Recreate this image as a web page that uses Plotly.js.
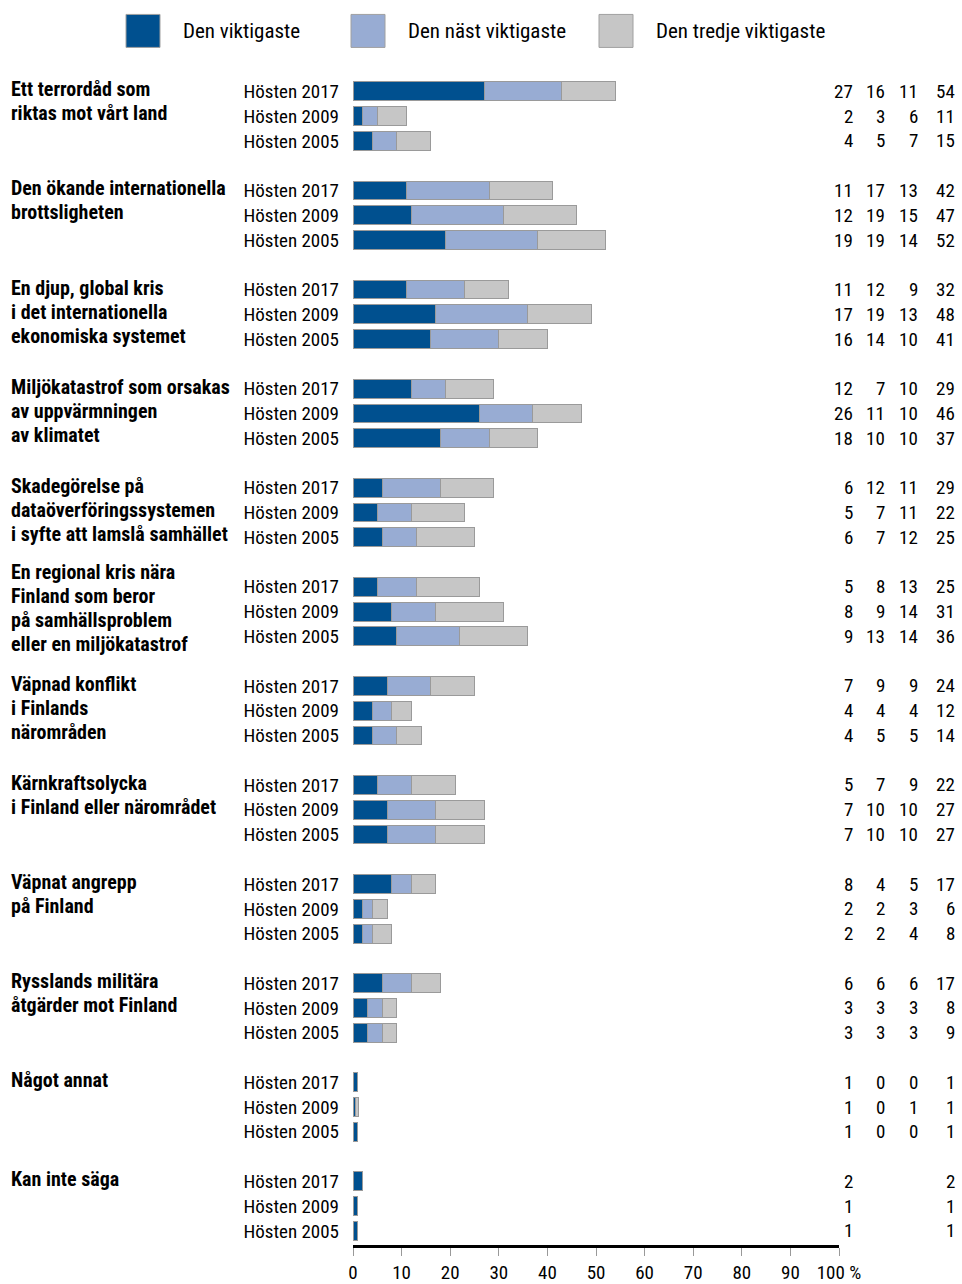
<!DOCTYPE html>
<html>
<head>
<meta charset="utf-8">
<script src="https://cdn.plot.ly/plotly-3.0.1.min.js"></script>
<style>
  html, body { margin: 0; padding: 0; background: #fff; }
  #chart { width: 962px; height: 1284px; }
</style>
</head>
<body>
<div id="chart"></div>
<script>
const groups = [
  "Ett terrordåd som<br>riktas mot vårt land",
  "Den ökande internationella<br>brottsligheten",
  "En djup, global kris<br>i det internationella<br>ekonomiska systemet",
  "Miljökatastrof som orsakas<br>av uppvärmningen<br>av klimatet",
  "Skadegörelse på<br>dataöverföringssystemen<br>i syfte att lamslå samhället",
  "En regional kris nära<br>Finland som beror<br>på samhällsproblem<br>eller en miljökatastrof",
  "Väpnad konflikt<br>i Finlands<br>närområden",
  "Kärnkraftsolycka<br>i Finland eller närområdet",
  "Väpnat angrepp<br>på Finland",
  "Rysslands militära<br>åtgärder mot Finland",
  "Något annat",
  "Kan inte säga"
];
const years = ["Hösten 2017", "Hösten 2009", "Hösten 2005"];
const seriesNames = ["Den viktigaste", "Den näst viktigaste", "Den tredje viktigaste"];
const seriesColors = ["#00508f", "#98acd3", "#c6c6c6"];

// values per group: [2017, 2009, 2005]
const first = [
  [27, 2, 4], [11, 12, 19], [11, 17, 16], [12, 26, 18], [6, 5, 6], [5, 8, 9],
  [7, 4, 4], [5, 7, 7], [8, 2, 2], [6, 3, 3], [1, 0.5, 1], [2, 1, 1]
];
const second = [
  [16, 3, 5], [17, 19, 19], [12, 19, 14], [7, 11, 10], [12, 7, 7], [8, 9, 13],
  [9, 4, 5], [7, 10, 10], [4, 2, 2], [6, 3, 3], [0, 0.1, 0], [null, null, null]
];
const third = [
  [11, 6, 7], [13, 15, 14], [9, 13, 10], [10, 10, 10], [11, 11, 12], [13, 14, 14],
  [9, 4, 5], [9, 10, 10], [5, 3, 4], [6, 3, 3], [0, 0.6, 0], [null, null, null]
];
const total = [
  [54, 11, 15], [42, 47, 52], [32, 48, 41], [29, 46, 37], [29, 22, 25], [25, 31, 36],
  [24, 12, 14], [22, 27, 27], [17, 6, 8], [17, 8, 9], [1, 1, 1], [2, 1, 1]
];
const xTickVals = [0, 10, 20, 30, 40, 50, 60, 70, 80, 90, 100];
const xTickText = ["0", "10", "20", "30", "40", "50", "60", "70", "80", "90", "100 %"];

const FONT = "'Roboto Condensed', 'DejaVu Sans Condensed', sans-serif";
const SLOT = 4;
const PLOT_L = 353, PLOT_W = 486, PLOT_T = 78.6, PLOT_H = 1166.4;
const px2x = p => (p - PLOT_L) / PLOT_W;
const px2y = p => 1 - (p - PLOT_T) / PLOT_H;

const pos = [], tickText = [];
groups.forEach((g, gi) => years.forEach((y, ri) => { pos.push(gi * SLOT + ri); tickText.push(y); }));

function flat(arr) {
  const out = [];
  arr.forEach(r => r.forEach(v => out.push(v === 0 ? null : v)));
  return out;
}
const seriesData = [first, second, third];
const traces = seriesData.map((d, i) => ({
  type: 'bar', orientation: 'h', name: seriesNames[i],
  x: flat(d), y: pos, width: 0.76,
  marker: { color: seriesColors[i], line: { color: '#9a9a9a', width: 1 } },
  hoverinfo: 'x+name', showlegend: false
}));

const annotations = [];
const colRight = [855, 887, 920, 957];
const LINE_H = 24;
groups.forEach((g, gi) => {
  const lines = g.split('<br>');
  const start = lines.length > 3 ? -15 : -2;
  lines.forEach((ln, li) => {
    annotations.push({
      xref: 'paper', yref: 'y', x: px2x(9), y: gi * SLOT,
      xanchor: 'left', yanchor: 'middle', align: 'left', showarrow: false,
      yshift: -(start + li * LINE_H),
      text: '<b>' + ln + '</b>',
      font: { family: FONT, size: 20, color: '#000' }
    });
  });
  years.forEach((y, ri) => {
    const vals = [first[gi][ri], second[gi][ri], third[gi][ri], total[gi][ri]];
    vals.forEach((v, ci) => {
      if (v === null || v === undefined) return;
      annotations.push({
        xref: 'paper', yref: 'y', x: px2x(colRight[ci]), y: gi * SLOT + ri,
        xanchor: 'right', yanchor: 'middle', showarrow: false,
        text: String(ci === 3 ? v : Math.round(v)),
        font: { family: FONT, size: 19, color: '#000' }
      });
    });
  });
});

// legend (drawn manually for large swatches)
const shapes = [];
const legX = [126, 351, 599];
seriesNames.forEach((n, i) => {
  shapes.push({
    type: 'rect', xref: 'paper', yref: 'paper',
    x0: px2x(legX[i]), x1: px2x(legX[i] + 34),
    y0: px2y(47), y1: px2y(14),
    fillcolor: seriesColors[i], line: { color: '#a0a0a0', width: 1 }
  });
  annotations.push({
    xref: 'paper', yref: 'paper',
    x: px2x(legX[i] + 55), y: px2y(31),
    xanchor: 'left', yanchor: 'middle', showarrow: false,
    text: n, font: { family: FONT, size: 21, color: '#000' }
  });
});

const layout = {
  width: 962, height: 1284,
  margin: { l: PLOT_L, r: 962 - PLOT_L - PLOT_W, t: PLOT_T, b: 1284 - PLOT_T - PLOT_H, pad: 0 },
  paper_bgcolor: '#fff', plot_bgcolor: '#fff',
  barmode: 'stack', bargap: 0,
  showlegend: false,
  font: { family: FONT, size: 19, color: '#000' },
  xaxis: {
    range: [0, 100], tickvals: xTickVals, ticktext: xTickText,
    showgrid: false, zeroline: false,
    showline: true, linecolor: '#000', linewidth: 3,
    ticks: 'outside', ticklen: 8, tickwidth: 1, tickcolor: '#999',
    tickfont: { family: FONT, size: 19, color: '#000' },
    fixedrange: true
  },
  yaxis: {
    range: [46.57, -0.5], tickvals: pos, ticktext: tickText,
    showgrid: false, zeroline: false, showline: false,
    ticks: '', ticklabelstandoff: 13,
    tickfont: { family: FONT, size: 19, color: '#000' },
    fixedrange: true
  },
  annotations: annotations,
  shapes: shapes
};

Plotly.newPlot('chart', traces, layout, { displayModeBar: false, staticPlot: true });
</script>
</body>
</html>
